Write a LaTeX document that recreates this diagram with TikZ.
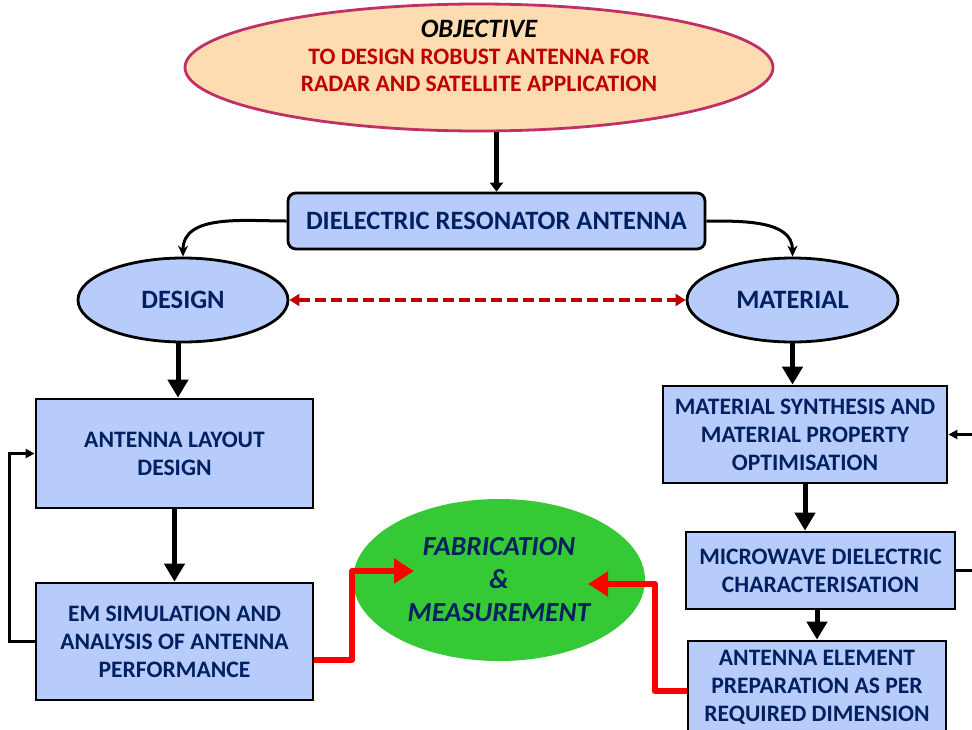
\documentclass[tikz,border=0pt]{standalone}
\usepackage{fontspec}
\setmainfont{Carlito}
\usetikzlibrary{arrows.meta,shapes.geometric}
\definecolor{lblue}{RGB}{184,204,252}
\definecolor{peach}{RGB}{252,220,176}
\definecolor{objborder}{RGB}{192,48,100}
\definecolor{navy}{RGB}{0,32,96}
\definecolor{dred}{RGB}{192,0,0}
\definecolor{fabgreen}{RGB}{53,201,53}
\definecolor{bred}{RGB}{255,0,0}
\tikzset{
  boxtext/.style={font=\fontsize{23.6}{28}\selectfont\bfseries, text=navy, align=center},
  bigtext/.style={font=\fontsize{26.5}{30}\selectfont\bfseries},
  stepbox/.style={boxtext, draw=black, line width=2.8pt, fill=lblue, inner sep=0pt},
  ovalbox/.style={boxtext, bigtext, ellipse, draw=black, line width=2.8pt, fill=lblue, inner sep=0pt},
  bigarrow/.style={line width=5pt, -{Triangle[length=18pt,width=20pt]}},
  toparrow/.style={line width=5.5pt, -{Triangle[length=9pt,width=13pt]}},
  thinarrow/.style={line width=2.8pt, -{Triangle[length=9pt,width=9pt]}},
  curvearrow/.style={line width=3pt, -{Stealth[length=11pt,width=10pt]}},
  redarrow/.style={line width=6pt, bred, line join=round, -{Triangle[length=20pt,width=24pt]}},
  dasharrow/.style={line width=3.2pt, dred, dash pattern=on 11pt off 5pt, {Triangle[length=10pt,width=12pt]}-{Triangle[length=10pt,width=12pt]}},
}
\begin{document}
\begin{tikzpicture}[x=1pt,y=-1pt]
\path[use as bounding box] (0,0) rectangle (972,729);
\clip (0,0) rectangle (972,729);
\fill[white] (0,0) rectangle (972,729);

% objective ellipse
\node[ellipse, draw=objborder, line width=2.8pt, fill=peach, minimum width=588pt, minimum height=127pt, inner sep=0pt] (obj) at (479,67.5) {};
\node[font=\fontsize{23.6}{27}\selectfont\bfseries, align=center, text=dred] (objtext) at (479,56)
  {{\color{black}\fontsize{26.5}{27}\selectfont\itshape OBJECTIVE}\\TO DESIGN ROBUST ANTENNA FOR\\RADAR AND SATELLITE APPLICATION};

% DRA
\node[stepbox, bigtext, rounded corners=8pt, minimum width=417pt, minimum height=56pt] (dra) at (496.5,221) {DIELECTRIC RESONATOR ANTENNA};

% ellipses
\node[ovalbox, minimum width=210pt, minimum height=84pt] (design) at (183,300) {DESIGN};
\node[ovalbox, minimum width=211pt, minimum height=84pt] (material) at (792.5,300) {MATERIAL};

% left column
\node[stepbox, minimum width=277pt, minimum height=109pt] (layout) at (174.5,453.5) {ANTENNA LAYOUT\\DESIGN};
\node[stepbox, minimum width=277pt, minimum height=117pt] (em) at (174.5,641.5) {EM SIMULATION AND\\ANALYSIS OF ANTENNA\\PERFORMANCE};

% right column
\node[stepbox, minimum width=284pt, minimum height=97pt] (msyn) at (805,434.5) {MATERIAL SYNTHESIS AND\\MATERIAL PROPERTY\\OPTIMISATION};
\node[stepbox, minimum width=269pt, minimum height=77pt] (mw) at (820.5,570.5) {MICROWAVE DIELECTRIC\\CHARACTERISATION};
\node[stepbox, minimum width=258pt, minimum height=92pt] (aep) at (817,687) {ANTENNA ELEMENT\\PREPARATION AS PER\\REQUIRED DIMENSION};

% fabrication
\node[ellipse, fill=fabgreen, minimum width=292pt, minimum height=162pt, inner sep=0pt,
      font=\fontsize{27.5}{33}\selectfont\bfseries\itshape, text=navy, align=center] (fab) at (499,580)
  {FABRICATION\\\&\\MEASUREMENT};
\coordinate (fin1) at (414,571);
\coordinate (fin2) at (588,584);

% connectors
\draw[toparrow] (obj.south -| dra.north) -- (dra.north);
\draw[curvearrow] (dra.west) to[out=180,in=90] (design.north);
\draw[curvearrow] (dra.east) to[out=0,in=90] (material.north);
\draw[dasharrow] (design.east) -- (material.west);
\draw[bigarrow] ([xshift=-5pt]design.south) -- ([xshift=-5pt]design.south |- layout.north);
\draw[bigarrow] (layout.south) -- (em.north);
\draw[bigarrow] (material.south) -- (material.south |- msyn.north);
\draw[bigarrow] (msyn.south) -- (msyn.south |- mw.north);
\draw[bigarrow] (aep.north |- mw.south) -- (aep.north);
\draw[thinarrow] (em.west) -- ++(-25,0) |- (layout.west);
\draw[thinarrow] (mw.east) -- ++(30,0) |- (msyn.east);
\draw[redarrow] ([yshift=-18pt]em.east) -- ++(38,0) |- (fin1);
\draw[redarrow] ([yshift=-4pt]aep.west) -- ++(-32,0) |- (fin2);
\end{tikzpicture}
\end{document}
